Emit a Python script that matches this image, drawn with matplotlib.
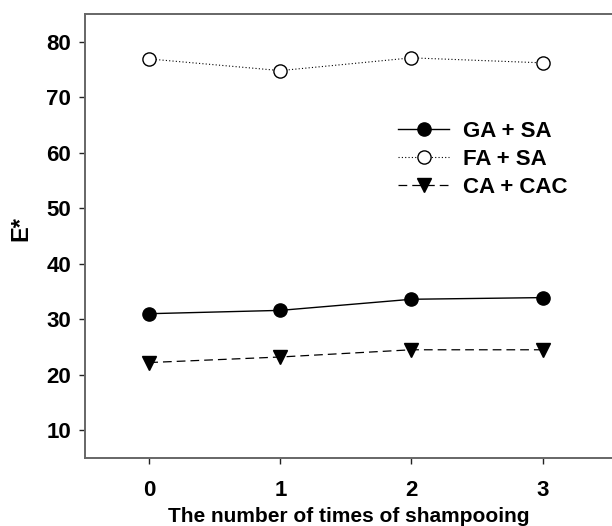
import matplotlib
matplotlib.use("Agg")
import matplotlib.pyplot as plt

# --- data ---
shampoo_times = [0, 1, 2, 3]
ga_sa = [31.0, 31.6, 33.6, 33.9]
fa_sa = [76.9, 74.8, 77.1, 76.2]
ca_cac = [22.2, 23.2, 24.5, 24.5]
y_ticks = [10, 20, 30, 40, 50, 60, 70, 80]

plt.rcParams['font.family'] = ['Liberation Sans', 'DejaVu Sans']
plt.rcParams['font.weight'] = 'bold'

fig = plt.figure(figsize=(6.12, 5.26), dpi=100)
ax = fig.add_axes([85 / 612, 68 / 526, 1 - 85 / 612, (458 - 14) / 526])

ax.plot(shampoo_times, ga_sa, color='black', lw=1.0, ls='-',
        marker='o', ms=9.5, mfc='black', mec='black', label='GA + SA')
ax.plot(shampoo_times, fa_sa, color='black', lw=0.8, ls=(0, (1, 2)),
        marker='o', ms=9.5, mfc='white', mec='black', mew=1.0, label='FA + SA')
ax.plot(shampoo_times, ca_cac, color='black', lw=0.9, ls=(0, (7, 4)),
        marker='v', ms=9.5, mfc='black', mec='black', label='CA + CAC')

ax.set_xlim(-0.49, 3.53)
ax.set_ylim(5, 85)
ax.set_xticks(shampoo_times)
ax.set_yticks(y_ticks)

for side in ['left', 'bottom', 'top']:
    ax.spines[side].set_color('#666666')
    ax.spines[side].set_linewidth(1.4)
ax.spines['right'].set_visible(False)

ax.tick_params(direction='out', length=4, width=1.0, color='#222222',
               labelsize=16, pad=6)
ax.tick_params(axis='x', pad=12)
for lbl in ax.get_xticklabels() + ax.get_yticklabels():
    lbl.set_fontweight('bold')

ax.set_xlabel('The number of times of shampooing', fontsize=15,
              fontweight='bold', labelpad=4)
ax.set_ylabel('E*', fontsize=17, fontweight='bold')
ax.yaxis.set_label_coords(-0.099, 0.516)

leg = ax.legend(loc='upper left', bbox_to_anchor=(0.573, 0.784), frameon=False,
                fontsize=16, handlelength=2.3, handletextpad=0.6,
                labelspacing=0.32, borderpad=0)
for t in leg.get_texts():
    t.set_fontweight('bold')

fig.savefig('out.png', dpi=100)
